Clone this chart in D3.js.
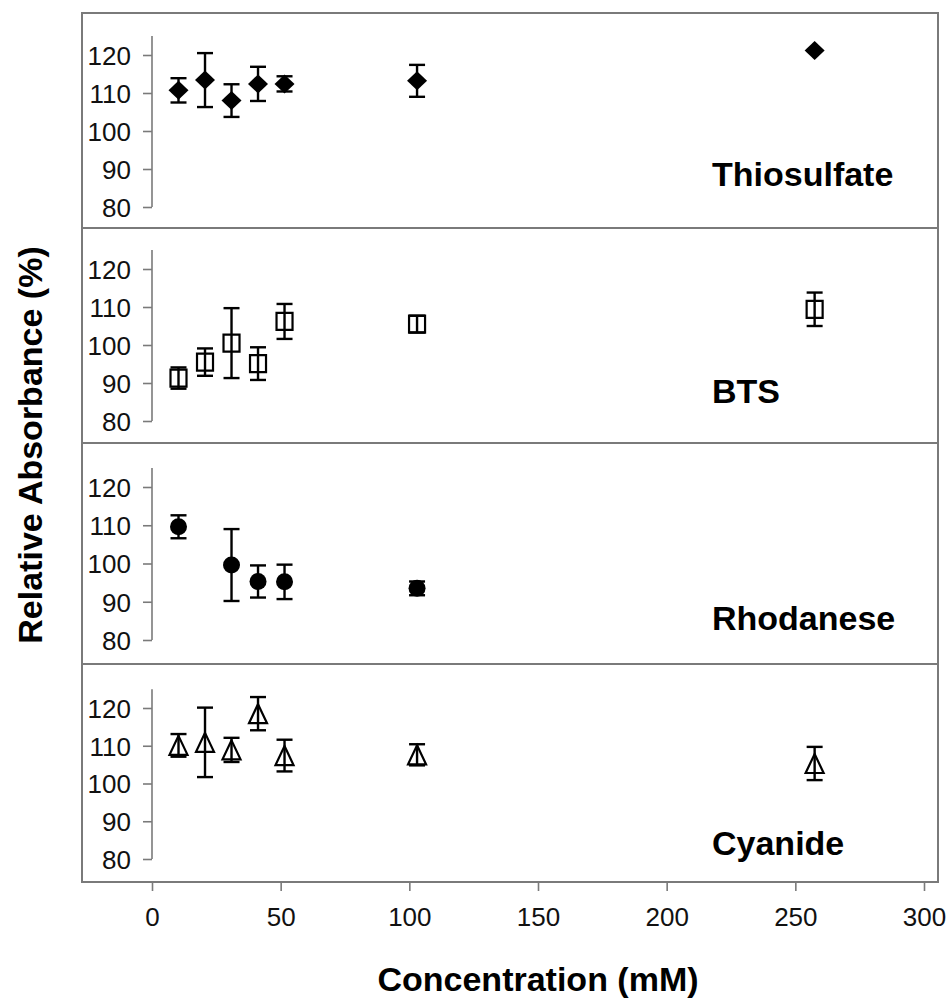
<!DOCTYPE html>
<html><head><meta charset="utf-8">
<script src="https://cdn.jsdelivr.net/npm/d3@7"></script>
<style>body{margin:0;background:#fff}svg{display:block}</style>
</head><body>
<svg id="chart" width="946" height="998"></svg>
<script>
// ---- data ----
const concentrations = [10.3, 20.6, 30.9, 41.2, 51.5, 103, 257.5];
const panelNames = ["Thiosulfate", "BTS", "Rhodanese", "Cyanide"];
const markerTypes = ["diamond", "square", "circle", "triangle"];
const thiosulfateMean = [110.7, 113.4, 108.0, 112.4, 112.4, 113.2, 121.2];
const thiosulfateErr  = [3.2, 7.1, 4.3, 4.5, 2.0, 4.2, 0];
const btsMean = [91.3, 95.5, 100.5, 95.1, 106.2, 105.5, 109.4];
const btsErr  = [2.8, 3.6, 9.2, 4.3, 4.6, 2.2, 4.4];
const rhodaneseMean = [109.6, null, 99.6, 95.3, 95.2, 93.5, null];
const rhodaneseErr  = [3.0, null, 9.4, 4.2, 4.5, 1.8, null];
const cyanideMean = [110.1, 110.9, 108.9, 118.5, 107.4, 107.6, 105.3];
const cyanideErr  = [3.0, 9.2, 3.2, 4.4, 4.2, 2.8, 4.4];
const yTicks = [80, 90, 100, 110, 120];
const xTicks = [0, 50, 100, 150, 200, 250, 300];
const yAxisTitle = "Relative Absorbance (%)";
const xAxisTitle = "Concentration (mM)";

const seriesMeans = [thiosulfateMean, btsMean, rhodaneseMean, cyanideMean];
const seriesErrs = [thiosulfateErr, btsErr, rhodaneseErr, cyanideErr];

// ---- layout ----
const frame = {left: 82, right: 938, top: 13, bottom: 882};
const panelTops = [13, 228, 443, 664];
const panelY80 = [207, 421, 640, 859];
const panelY120 = [55, 269, 487, 708];
const labelBaseline = [186, 403, 630, 855];
const FONT = "'Liberation Sans', Arial, Helvetica, sans-serif";
const GRAY = "#7a7a7a";

const svg = d3.select("#chart");
const x = d3.scaleLinear().domain([0, 300]).range([152, 924]);

// frame and dividers
svg.append("rect").attr("x", frame.left).attr("y", frame.top)
  .attr("width", frame.right - frame.left).attr("height", frame.bottom - frame.top)
  .attr("fill", "none").attr("stroke", GRAY).attr("stroke-width", 2);
panelTops.slice(1).forEach(t => {
  svg.append("line").attr("x1", frame.left).attr("x2", frame.right)
    .attr("y1", t).attr("y2", t).attr("stroke", GRAY).attr("stroke-width", 2);
});

function markerPath(type) {
  if (type === "diamond") return "M0,-9.5L10,0L0,9.5L-10,0Z";
  if (type === "square") return "M-8,-8.5H8V8.5H-8Z";
  if (type === "triangle") return "M0,-9.5L9,9.5L-9,9.5Z";
  return null;
}

panelNames.forEach((name, i) => {
  const y = d3.scaleLinear().domain([80, 120]).range([panelY80[i], panelY120[i]]);
  const g = svg.append("g");
  // y axis
  const ax = g.append("g").attr("transform", `translate(${x(0)},0)`)
    .call(d3.axisLeft(y).tickValues(yTicks).tickSize(9).tickPadding(12).tickSizeOuter(0));
  ax.select(".domain").attr("d", `M0,${y(80)}V${y(125)}`).attr("stroke", GRAY).attr("stroke-width", 1.6);
  ax.selectAll(".tick line").attr("stroke", GRAY).attr("stroke-width", 1.6);
  ax.selectAll(".tick text").attr("font-family", FONT).attr("font-size", 26).attr("fill", "#111").attr("dy", "0.36em");

  const means = seriesMeans[i], errs = seriesErrs[i];
  const pts = concentrations.map((c, k) => ({c, m: means[k], e: errs[k]})).filter(d => d.m != null);

  // error bars
  const eb = g.selectAll(".eb").data(pts.filter(d => d.e > 0)).enter().append("g")
    .attr("stroke", "#000").attr("stroke-width", 2.4).attr("fill", "none");
  eb.append("line").attr("x1", d => x(d.c)).attr("x2", d => x(d.c))
    .attr("y1", d => y(d.m - d.e)).attr("y2", d => y(d.m + d.e));
  eb.append("line").attr("x1", d => x(d.c) - 8).attr("x2", d => x(d.c) + 8)
    .attr("y1", d => y(d.m + d.e)).attr("y2", d => y(d.m + d.e));
  eb.append("line").attr("x1", d => x(d.c) - 8).attr("x2", d => x(d.c) + 8)
    .attr("y1", d => y(d.m - d.e)).attr("y2", d => y(d.m - d.e));

  // markers
  const type = markerTypes[i];
  const filled = type === "diamond" || type === "circle";
  const mk = g.selectAll(".mk").data(pts).enter();
  if (type === "circle") {
    mk.append("circle").attr("cx", d => x(d.c)).attr("cy", d => y(d.m)).attr("r", 8.5)
      .attr("fill", "#000");
  } else {
    mk.append("path").attr("d", markerPath(type))
      .attr("transform", d => `translate(${x(d.c)},${y(d.m)})`)
      .attr("fill", filled ? "#000" : "none")
      .attr("stroke", "#000").attr("stroke-width", filled ? 0 : 2.2);
  }

  // panel label
  g.append("text").attr("x", 712).attr("y", labelBaseline[i])
    .attr("font-family", FONT).attr("font-weight", "bold").attr("font-size", 34)
    .attr("fill", "#000").text(name);
});

// x axis (ticks below the frame)
const xa = svg.append("g").attr("transform", `translate(0,${frame.bottom})`)
  .call(d3.axisBottom(x).tickValues(xTicks).tickSize(9).tickPadding(17).tickSizeOuter(0));
xa.select(".domain").remove();
xa.selectAll(".tick line").attr("stroke", GRAY).attr("stroke-width", 1.6);
xa.selectAll(".tick text").attr("font-family", FONT).attr("font-size", 26).attr("fill", "#111");

// axis titles
svg.append("text").attr("x", x(150)).attr("y", 991).attr("text-anchor", "middle")
  .attr("font-family", FONT).attr("font-weight", "bold").attr("font-size", 34).text(xAxisTitle);
svg.append("text").attr("transform", "translate(42,445) rotate(-90)").attr("text-anchor", "middle")
  .attr("font-family", FONT).attr("font-weight", "bold").attr("font-size", 34).text(yAxisTitle);
</script>
</body></html>
